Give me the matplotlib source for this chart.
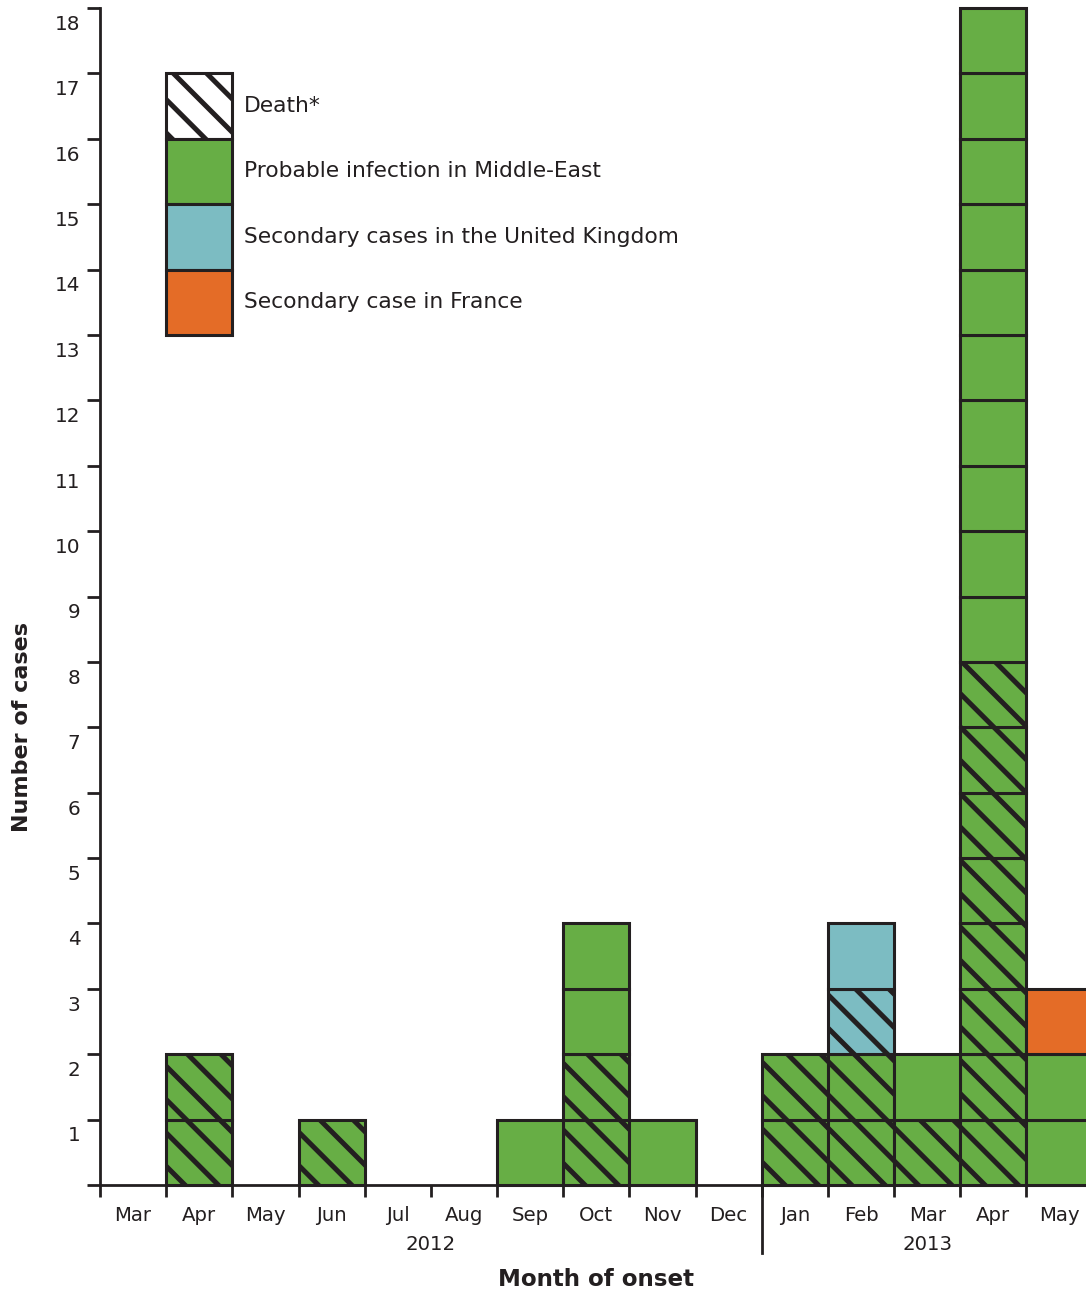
import numpy as np
import matplotlib
matplotlib.use("Agg")
import matplotlib.pyplot as plt
from matplotlib.patches import Patch
from matplotlib.transforms import blended_transform_factory

# months of onset, Mar 2012 .. May 2013
months = ["Mar", "Apr", "May", "Jun", "Jul", "Aug", "Sep", "Oct", "Nov", "Dec",
          "Jan", "Feb", "Mar", "Apr", "May"]
years = ["2012", "2013"]
year_spans = [(0, 10), (10, 15)]

# cases per month, stacked in this order from the bottom
death_middle_east = [0, 2, 0, 1, 0, 0, 0, 2, 0, 0, 2, 2, 1, 8, 0]
middle_east = [0, 0, 0, 0, 0, 0, 1, 2, 1, 0, 0, 0, 1, 10, 2]
death_uk = [0, 0, 0, 0, 0, 0, 0, 0, 0, 0, 0, 1, 0, 0, 0]
uk = [0, 0, 0, 0, 0, 0, 0, 0, 0, 0, 0, 1, 0, 0, 0]
france = [0, 0, 0, 0, 0, 0, 0, 0, 0, 0, 0, 0, 0, 0, 1]

GREEN = "#67ae45"
BLUE = "#7cbcc2"
ORANGE = "#e46c27"
INK = "#231f20"
HATCH = "\\\\"

layers = [
    (death_middle_east, GREEN, HATCH),
    (middle_east, GREEN, None),
    (death_uk, BLUE, HATCH),
    (uk, BLUE, None),
    (france, ORANGE, None),
]

plt.rcParams["font.family"] = ["DejaVu Sans"]
plt.rcParams["hatch.linewidth"] = 1.8
plt.rcParams["hatch.color"] = "black"

fig = plt.figure(figsize=(5.43, 6.47), dpi=200)
W, H = 1086, 1294
ax = fig.add_axes([100 / W, (H - 1185) / H, 986 / W, 1177 / H])

# one box per case
bottom = np.zeros(len(months))
for counts, color, hatch in layers:
    xs, bs = [], []
    for i, c in enumerate(counts):
        for k in range(c):
            xs.append(i + 0.5)
            bs.append(bottom[i] + k)
    if xs:
        ax.bar(xs, 1, bottom=bs, width=1, color=color, edgecolor=INK,
               linewidth=1.1, hatch=hatch, clip_on=False, zorder=3)
    bottom += np.array(counts)

ax.set_xlim(0, 14.9)
ax.set_ylim(0, 18)

for side in ["top", "right"]:
    ax.spines[side].set_visible(False)
ax.spines["left"].set_color(INK)
ax.spines["bottom"].set_color(INK)
ax.spines["left"].set_linewidth(1.0)
ax.spines["bottom"].set_linewidth(1.0)
ax.spines["left"].set_zorder(4)

# y: ticks at integers, labels slightly below them
ax.set_yticks(range(0, 19))
ax.set_yticklabels([])
ax.set_yticks([k - 0.22 for k in range(1, 19)], minor=True)
ax.set_yticklabels([str(k) for k in range(1, 19)], minor=True)
ax.tick_params(axis="y", which="major", length=4.7, width=1.0, color=INK)
ax.tick_params(axis="y", which="minor", length=0, pad=7, labelsize=7.2,
               labelcolor=INK)

# x: ticks at month boundaries, labels centred
ax.set_xticks(range(0, 15))
ax.set_xticklabels([])
ax.set_xticks([i + 0.5 for i in range(len(months))], minor=True)
ax.set_xticklabels(months, minor=True)
ax.tick_params(axis="x", which="major", length=4.3, width=1.0, color=INK)
ax.tick_params(axis="x", which="minor", length=0, pad=7.5, labelsize=7.1,
               labelcolor=INK)

trans = blended_transform_factory(ax.transData, ax.transAxes)
# year separator
ax.plot([10, 10], [0, -68 / 1177], transform=trans, color=INK, lw=1.0,
        clip_on=False)
for yr, (a, b) in zip(years, year_spans):
    ax.text((a + b) / 2, -60 / 1177, yr, transform=trans, ha="center",
            va="center", fontsize=7.1, color=INK)

ax.text(7.5, -95 / 1177, "Month of onset", transform=trans, ha="center",
        va="center", fontsize=8.3, fontweight="bold", color=INK)
trans_y = blended_transform_factory(ax.transAxes, ax.transData)
ax.text(-78 / 986, 7.0, "Number of cases", transform=trans_y, rotation=90,
        ha="center", va="center", fontsize=8.0, fontweight="bold", color=INK)

handles = [
    Patch(facecolor="white", edgecolor=INK, hatch=HATCH, linewidth=1.1, label="Death*"),
    Patch(facecolor=GREEN, edgecolor=INK, linewidth=1.1, label="Probable infection in Middle-East"),
    Patch(facecolor=BLUE, edgecolor=INK, linewidth=1.1, label="Secondary cases in the United Kingdom"),
    Patch(facecolor=ORANGE, edgecolor=INK, linewidth=1.1, label="Secondary case in France"),
]
fs = 7.85
em = fs * 200 / 72
# legend sizes the box as fs*(0.65*h + 0.245)
hh = (65.4 / em - 0.245) / 0.65
leg = ax.legend(handles=handles, loc="upper left", bbox_to_anchor=(1, 17),
                bbox_transform=ax.transData, frameon=False, borderpad=0,
                borderaxespad=0, fontsize=fs, handlelength=66 / em,
                handleheight=hh, labelspacing=0, handletextpad=12 / em)
for t in leg.get_texts():
    t.set_color(INK)

fig.savefig("out.png", dpi=200)
